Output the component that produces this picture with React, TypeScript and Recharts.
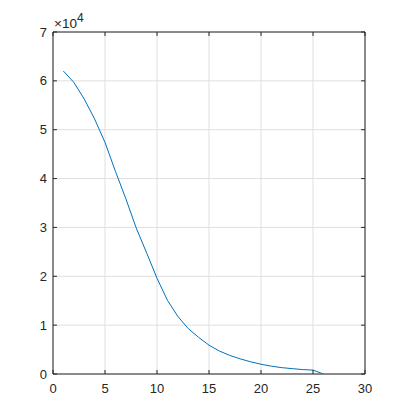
import { LineChart, Line, XAxis, YAxis, CartesianGrid, Customized, ReferenceArea, ReferenceLine } from "recharts";

const xValues = [1, 2, 3, 4, 5, 6, 7, 8, 9, 10, 11, 12, 13, 14, 15, 16, 17, 18, 19, 20, 21, 22, 23, 24, 25, 26];
const yValues = [
  62000, 59700, 56300, 52200, 47400, 41500, 35900, 29900, 24800, 19600,
  15100, 11800, 9300, 7500, 5900, 4700, 3800, 3100, 2500, 2000,
  1600, 1300, 1100, 900, 800, 0,
];
const xTicks = [0, 5, 10, 15, 20, 25, 30];
const yTicks = [0, 10000, 20000, 30000, 40000, 50000, 60000, 70000];

const data = xValues.map((x, i) => ({ x, y: yValues[i] }));

const FONT = "'Liberation Sans', Arial, Helvetica, sans-serif";
const INK = "#262626";
// inward tick length, in data units (about 4px)
const TICK_X = 0.38;
const TICK_Y = 820;

function Exponent() {
  return (
    <text x={54} y={28} fontFamily={FONT} fontSize={13.5} fill={INK}>
      ×10
      <tspan dy={-6} fontSize={12}>4</tspan>
    </text>
  );
}

export default function App() {
  return (
    <div style={{ margin: -8, width: 404, height: 420, background: "#fff" }}>
      <LineChart width={404} height={420} data={data} margin={{ top: 32, right: 39, bottom: 0, left: 0 }}>
        <CartesianGrid stroke="#dfdfdf" strokeWidth={1} />
        <XAxis
          dataKey="x"
          type="number"
          domain={[0, 30]}
          ticks={xTicks}
          height={46}
          axisLine={false}
          tickLine={false}
          tickSize={-4}
          tickMargin={14}
          tick={{ fill: INK, fontSize: 13, fontFamily: FONT }}
          allowDataOverflow
        />
        <YAxis
          type="number"
          domain={[0, 70000]}
          ticks={yTicks}
          width={53}
          axisLine={false}
          tickLine={false}
          tickSize={-4}
          tickMargin={10}
          tickFormatter={(v: number) => String(v / 10000)}
          tick={{ fill: INK, fontSize: 13, fontFamily: FONT }}
          allowDataOverflow
        />
        <Line
          type="linear"
          dataKey="y"
          stroke="#0072BD"
          strokeWidth={1}
          dot={false}
          isAnimationActive={false}
        />
        <ReferenceArea x1={0} x2={30} y1={0} y2={70000} fill="none" stroke={INK} strokeWidth={1} />
        {xTicks.map((t) => (
          <ReferenceLine key={`b${t}`} segment={[{ x: t, y: 0 }, { x: t, y: TICK_Y }]} stroke={INK} />
        ))}
        {xTicks.map((t) => (
          <ReferenceLine key={`t${t}`} segment={[{ x: t, y: 70000 }, { x: t, y: 70000 - TICK_Y }]} stroke={INK} />
        ))}
        {yTicks.map((t) => (
          <ReferenceLine key={`l${t}`} segment={[{ x: 0, y: t }, { x: TICK_X, y: t }]} stroke={INK} />
        ))}
        {yTicks.map((t) => (
          <ReferenceLine key={`r${t}`} segment={[{ x: 30, y: t }, { x: 30 - TICK_X, y: t }]} stroke={INK} />
        ))}
        <Customized component={Exponent} />
      </LineChart>
    </div>
  );
}
